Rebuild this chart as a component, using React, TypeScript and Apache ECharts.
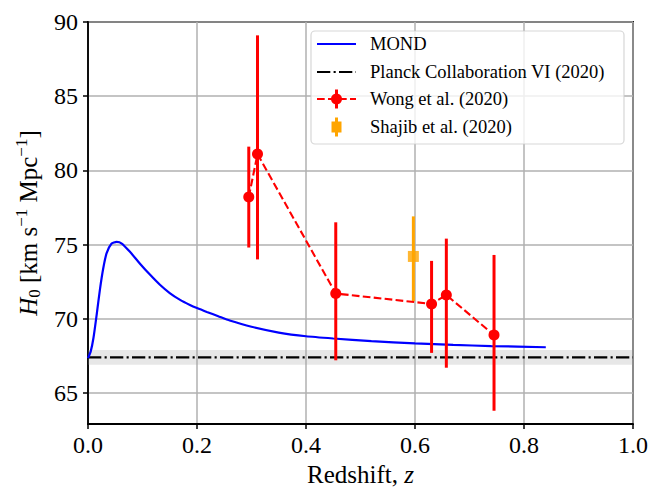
import React, { useEffect, useRef } from "react";
import * as echarts from "echarts";

// ---- Data ----
const MOND_Z = [0, 0.005, 0.01, 0.016, 0.022, 0.028, 0.034, 0.043, 0.0525, 0.062, 0.077, 0.095, 0.114, 0.132, 0.15, 0.169, 0.187, 0.2, 0.218, 0.239, 0.26, 0.3, 0.35, 0.4, 0.45, 0.52, 0.6, 0.67, 0.74, 0.84];
const MOND_H = [67.35, 67.8, 68.7, 70.3, 72.0, 73.4, 74.4, 75.05, 75.18, 75.07, 74.51, 73.73, 72.96, 72.29, 71.73, 71.27, 70.93, 70.72, 70.46, 70.17, 69.88, 69.46, 69.07, 68.82, 68.67, 68.49, 68.34, 68.24, 68.16, 68.08];

const PLANCK_H = 67.4;
const PLANCK_ERR = 0.5;
const PLANCK_Z = [0, 1];

const WONG_Z = [0.295, 0.311, 0.4546, 0.6304, 0.6575, 0.745];
const WONG_H = [78.2, 81.1, 71.7, 71.0, 71.6, 68.9];
const WONG_LO = [74.8, 74.0, 67.2, 67.7, 66.7, 63.8];
const WONG_HI = [81.6, 89.1, 76.5, 73.9, 75.4, 74.3];

const SHAJIB_Z = [0.597];
const SHAJIB_H = [74.2];
const SHAJIB_LO = [71.2];
const SHAJIB_HI = [76.9];

const Y_TICKS = [65, 70, 75, 80, 85, 90];

const LEGEND_LABELS = ["MOND", "Planck Collaboration VI (2020)", "Wong et al. (2020)", "Shajib et al. (2020)"];

const FONT = '"Liberation Serif", "Times New Roman", serif';
const DASHDOT = [13.3, 3.3, 2.1, 3.3];
const DASHED = [7.7, 3.3];

function errorBarSeries(zs: number[], lo: number[], hi: number[], color: string) {
  return {
    type: "custom",
    z: 3,
    silent: true,
    data: zs.map((z, i) => [z, lo[i], hi[i]]),
    encode: { x: 0, y: [1, 2] },
    renderItem: (params: any, api: any) => {
      const p1 = api.coord([api.value(0), api.value(1)]);
      const p2 = api.coord([api.value(0), api.value(2)]);
      return {
        type: "line",
        shape: { x1: p1[0], y1: p1[1], x2: p2[0], y2: p2[1] },
        style: { stroke: color, lineWidth: 3 },
      };
    },
  };
}

export default function App() {
  const ref = useRef<HTMLDivElement>(null);
  useEffect(() => {
    if (!ref.current) return;
    const chart = echarts.init(ref.current, null, { renderer: "svg" });
    const lx1 = 317, lx2 = 356, lxm = 336.5, tx = 370;
    const ly = [44, 72, 99, 127];
    const legendText = (i: number) => ({
      type: "text",
      z: 101,
      style: {
        text: LEGEND_LABELS[i],
        x: tx,
        y: ly[i],
        fill: "#000",
        fontFamily: FONT,
        fontSize: 18.5,
        verticalAlign: "middle",
        align: "left",
      },
    });
    chart.setOption({
      animation: false,
      backgroundColor: "#fff",
      grid: {
        left: 88,
        right: 19,
        top: 22,
        bottom: 63,
        show: true,
        borderColor: "#000",
        borderWidth: 1.8,
        backgroundColor: "transparent",
      },
      xAxis: {
        type: "value",
        min: 0,
        max: 1,
        interval: 0.2,
        name: "Redshift, {i|z}",
        nameLocation: "middle",
        nameGap: 36,
        nameTextStyle: {
          fontFamily: FONT,
          fontSize: 25,
          color: "#000",
          rich: { i: { fontFamily: FONT, fontSize: 25, fontStyle: "italic", color: "#000" } },
        },
        axisLine: { show: true, onZero: false, lineStyle: { color: "#000", width: 1.8 } },
        axisTick: { show: true, inside: false, length: 5, lineStyle: { color: "#000", width: 1.5 } },
        axisLabel: {
          fontFamily: FONT,
          fontSize: 24,
          color: "#000",
          margin: 9,
          formatter: (v: number) => v.toFixed(1),
        },
        splitLine: { show: true, lineStyle: { color: "#b0b0b0", width: 1.5 } },
      },
      yAxis: {
        type: "value",
        min: 62.9,
        max: 90,
        name: "{i|H}{sub|0} [km s{sup|−1} Mpc{sup|−1}]",
        nameLocation: "middle",
        nameRotate: 90,
        nameGap: 42,
        nameTextStyle: {
          fontFamily: FONT,
          fontSize: 25,
          color: "#000",
          lineHeight: 30,
          rich: {
            i: { fontFamily: FONT, fontSize: 25, fontStyle: "italic", color: "#000", lineHeight: 30 },
            sub: { fontFamily: FONT, fontSize: 17, color: "#000", verticalAlign: "bottom", lineHeight: 17 },
            sup: { fontFamily: FONT, fontSize: 17, color: "#000", verticalAlign: "top", lineHeight: 17 },
          },
        },
        axisLine: { show: true, onZero: false, lineStyle: { color: "#000", width: 1.8 } },
        axisTick: { show: true, inside: false, length: 5, customValues: Y_TICKS, lineStyle: { color: "#000", width: 1.5 } },
        axisLabel: {
          fontFamily: FONT,
          fontSize: 24,
          color: "#000",
          margin: 10,
          customValues: Y_TICKS,
          formatter: (v: number) => String(Math.round(v)),
        },
        splitLine: { show: true, lineStyle: { color: "#b0b0b0", width: 1.5 } },
      },
      series: [
        {
          type: "line",
          name: LEGEND_LABELS[1],
          data: PLANCK_Z.map((z) => [z, PLANCK_H]),
          showSymbol: false,
          z: 2,
          lineStyle: { color: "#000", width: 2.1, type: DASHDOT },
          markArea: {
            silent: true,
            itemStyle: { color: "rgba(160,160,160,0.25)" },
            data: [[{ yAxis: PLANCK_H - PLANCK_ERR }, { yAxis: PLANCK_H + PLANCK_ERR }]],
          },
        },
        {
          type: "line",
          name: LEGEND_LABELS[0],
          data: MOND_Z.map((z, i) => [z, MOND_H[i]]),
          showSymbol: false,
          smooth: 0.2,
          z: 2,
          lineStyle: { color: "#0000ff", width: 2.2 },
        },
        {
          type: "line",
          name: LEGEND_LABELS[2],
          data: WONG_Z.map((z, i) => [z, WONG_H[i]]),
          symbol: "circle",
          symbolSize: 11,
          showSymbol: true,
          z: 4,
          itemStyle: { color: "#ff0000" },
          lineStyle: { color: "#ff0000", width: 2.1, type: DASHED },
        },
        errorBarSeries(WONG_Z, WONG_LO, WONG_HI, "#ff0000"),
        errorBarSeries(SHAJIB_Z, SHAJIB_LO, SHAJIB_HI, "#ffa500"),
        {
          type: "scatter",
          name: LEGEND_LABELS[3],
          data: SHAJIB_Z.map((z, i) => [z, SHAJIB_H[i]]),
          symbol: "rect",
          symbolSize: 11,
          z: 4,
          itemStyle: { color: "#ffa500" },
        },
      ],
      graphic: [
        {
          type: "rect",
          z: 100,
          shape: { x: 311, y: 31, width: 313, height: 113, r: 4 },
          style: { fill: "rgba(255,255,255,0.8)", stroke: "rgba(204,204,204,0.8)", lineWidth: 1.2 },
        },
        {
          type: "line",
          z: 101,
          shape: { x1: lx1, y1: ly[0], x2: lx2, y2: ly[0] },
          style: { stroke: "#0000ff", lineWidth: 2.2 },
        },
        {
          type: "line",
          z: 101,
          shape: { x1: lx1, y1: ly[1], x2: lx2, y2: ly[1] },
          style: { stroke: "#000", lineWidth: 2.1, lineDash: DASHDOT },
        },
        {
          type: "line",
          z: 101,
          shape: { x1: lx1, y1: ly[2], x2: lx2, y2: ly[2] },
          style: { stroke: "#ff0000", lineWidth: 2.1, lineDash: DASHED },
        },
        {
          type: "line",
          z: 101,
          shape: { x1: lxm, y1: ly[2] - 9.5, x2: lxm, y2: ly[2] + 9.5 },
          style: { stroke: "#ff0000", lineWidth: 3 },
        },
        {
          type: "circle",
          z: 102,
          shape: { cx: lxm, cy: ly[2], r: 5.5 },
          style: { fill: "#ff0000" },
        },
        {
          type: "line",
          z: 101,
          shape: { x1: lxm, y1: ly[3] - 9.5, x2: lxm, y2: ly[3] + 9.5 },
          style: { stroke: "#ffa500", lineWidth: 3 },
        },
        {
          type: "rect",
          z: 102,
          shape: { x: lxm - 5, y: ly[3] - 5.5, width: 10, height: 11 },
          style: { fill: "#ffa500" },
        },
        legendText(0),
        legendText(1),
        legendText(2),
        legendText(3),
      ],
    });
    return () => chart.dispose();
  }, []);
  return (
    <div
      ref={ref}
      style={{ position: "fixed", left: 0, top: 0, width: 652, height: 492, background: "#fff" }}
    />
  );
}
